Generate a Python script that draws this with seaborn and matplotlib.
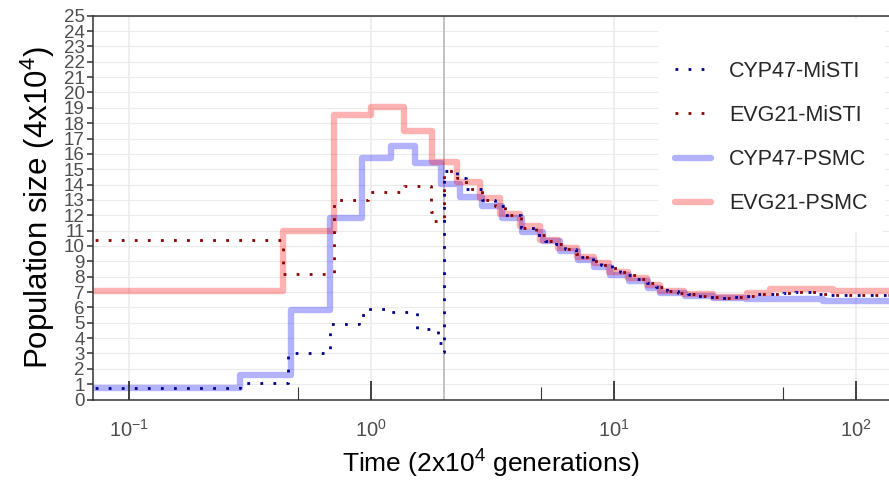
import numpy as np
import pandas as pd
import seaborn as sns
import matplotlib.pyplot as plt
import matplotlib.ticker as mticker

# --- step curves (time in 2x10^4 gen, size in 4x10^4) ---
# PSMC estimates
cyp47_psmc_t = [0.05, 0.286, 0.464, 0.678, 0.915, 1.2, 1.52, 1.93, 2.33, 2.86, 3.46, 4.2,
                5.1, 6.0, 7.1, 8.3, 9.7, 11.6, 13.8, 15.6, 19.6, 25.7, 35.0, 73.0, 150.0]
cyp47_psmc_n = [0.76, 1.57, 5.85, 11.8, 15.7, 16.5, 15.4, 14.05, 13.2, 12.6, 11.8, 10.9,
                10.3, 9.65, 9.1, 8.65, 8.1, 7.7, 7.25, 6.95, 6.75, 6.6, 6.55, 6.4, 6.4]

evg21_psmc_t = [0.05, 0.43, 0.70, 1.00, 1.36, 1.78, 2.26, 2.80, 3.39, 4.10, 4.96, 5.88,
                7.05, 8.26, 9.6, 11.5, 13.7, 15.5, 19.5, 25.7, 35.5, 44.0, 80.0, 150.0]
evg21_psmc_n = [7.1, 10.95, 18.5, 19.05, 17.5, 15.5, 14.2, 13.1, 12.1, 11.3, 10.4, 9.85,
                9.3, 8.87, 8.3, 7.9, 7.45, 7.1, 6.9, 6.65, 6.95, 7.2, 7.05, 7.05]

# MiSTI estimates: sample-specific early part, shared recent part
cyp47_misti_head_t = [0.05, 0.286, 0.455, 0.678, 0.89, 0.95, 1.2, 1.55, 1.89, 1.95]
cyp47_misti_head_n = [0.76, 1.09, 3.05, 4.95, 5.5, 5.88, 5.72, 4.6, 3.7, 3.1]

evg21_misti_head_t = [0.05, 0.43, 0.70, 0.97, 1.36, 1.76, 1.82]
evg21_misti_head_n = [10.4, 8.2, 13.0, 13.5, 13.9, 12.2, 11.6]

misti_tail_t = [1.99, 2.25, 2.45, 2.85, 3.25, 3.55, 4.15, 4.8, 5.2, 5.8, 6.3, 7.0, 7.4, 8.2,
                8.9, 9.8, 10.6, 11.5, 12.5, 13.7, 15.0, 16.6, 18.5, 20.3, 22.0, 24.0, 27.0,
                31.0, 35.0, 39.0, 44.0, 50.0, 56.0, 70.0, 77.0, 150.0]
misti_tail_n = [14.9, 14.4, 13.7, 13.0, 12.6, 12.0, 11.2, 10.7, 10.35, 10.1, 9.8, 9.5, 9.3,
                9.05, 8.77, 8.55, 8.3, 8.08, 7.86, 7.58, 7.3, 7.1, 6.95, 6.84, 6.72, 6.65,
                6.6, 6.65, 6.75, 6.85, 6.9, 6.95, 7.0, 6.85, 6.78, 6.78]

split_time = 2.0
legend_order = ["CYP47-MiSTI", "EVG21-MiSTI", "CYP47-PSMC", "EVG21-PSMC"]

sns.set_theme(style="white")
plt.rcParams["font.family"] = ["Liberation Sans", "DejaVu Sans"]
plt.rcParams["mathtext.fontset"] = "custom"
plt.rcParams["mathtext.rm"] = "Liberation Sans"
plt.rcParams["mathtext.it"] = "Liberation Sans:italic"
plt.rcParams["mathtext.bf"] = "Liberation Sans:bold"

fig = plt.figure(figsize=(8.89, 4.82), dpi=100)
ax = fig.add_axes([93 / 889, 82.5 / 482, 796 / 889, 383.8 / 482])
ax.set_xscale("log")

dotted = (0, (1, 3.7))
series = [
    ("CYP47-PSMC", cyp47_psmc_t, cyp47_psmc_n, dict(color="blue", alpha=0.3, lw=4.6)),
    ("EVG21-PSMC", evg21_psmc_t, evg21_psmc_n, dict(color="red", alpha=0.3, lw=4.6)),
    ("CYP47-MiSTI", cyp47_misti_head_t + misti_tail_t, cyp47_misti_head_n + misti_tail_n,
     dict(color="#00008b", lw=2.0, ls=dotted)),
    ("EVG21-MiSTI", evg21_misti_head_t + misti_tail_t, evg21_misti_head_n + misti_tail_n,
     dict(color="#8b0000", lw=2.0, ls=dotted)),
]
for name, t, n, style in series:
    sns.lineplot(x=t, y=n, ax=ax, drawstyle="steps-post", estimator=None, sort=False,
                 label=name, **style)

ax.axvline(split_time, color="#bdbdbd", lw=1.3, zorder=1.5)

# axes limits / ticks
ax.set_xlim(0.0710, 136.8)
ax.set_ylim(0, 25)
ax.set_yticks(range(0, 26))
decades = 10.0 ** np.arange(-2, 3)
ax.xaxis.set_major_locator(mticker.FixedLocator(decades))
ax.xaxis.set_minor_locator(mticker.LogLocator(base=10, subs=np.arange(2, 10), numticks=20))
ax.xaxis.set_minor_formatter(mticker.NullFormatter())

ax.grid(axis="y", which="major", color="#ebebeb", lw=0.8)
ax.grid(axis="x", which="major", color="#ebebeb", lw=1.2)
ax.set_axisbelow(True)

ax.tick_params(axis="x", which="major", direction="out", length=6, width=1.3,
               color="#333333", labelsize=14.5, labelcolor="#4d4d4d", pad=8)
ax.tick_params(axis="x", which="minor", direction="in", length=5, width=0.8, color="#333333")
ax.tick_params(axis="y", which="major", direction="out", length=4, width=1.1,
               color="#333333", labelsize=13.5, labelcolor="#4d4d4d", pad=2, left=True)
for lab in ax.get_yticklabels():
    lab.set_family(["Liberation Sans Narrow", "Liberation Sans"])

# log-tick style: longer inner marks at decades and at 5x
xt = ax.get_xaxis_transform()
ax.vlines(decades, 0, 19 / 383.8, transform=xt, color="#333333", lw=1.3)
ax.vlines(5 * decades, 0, 13 / 383.8, transform=xt, color="#333333", lw=0.8)

for side in ["left", "bottom", "top"]:
    ax.spines[side].set_color("#333333")
    ax.spines[side].set_linewidth(1.1)
ax.spines["right"].set_visible(False)

ax.set_xlabel("Time (2x10$^4$ generations)", fontsize=19, color="black", labelpad=5)
ax.set_ylabel("Population size (4x10$^4$)", fontsize=22.5, color="black", labelpad=5)

handles, labels = ax.get_legend_handles_labels()
lookup = dict(zip(labels, handles))
leg = ax.legend([lookup[k] for k in legend_order], legend_order, loc="upper right",
                bbox_to_anchor=(0.995, 0.991), fontsize=15.5, handlelength=1.65,
                handletextpad=0.85, labelspacing=1.08, borderpad=0.8, borderaxespad=0,
                title=" ", title_fontsize=1,
                frameon=True, facecolor="white", edgecolor="none", framealpha=1)

fig.savefig("out.png", dpi=100)
